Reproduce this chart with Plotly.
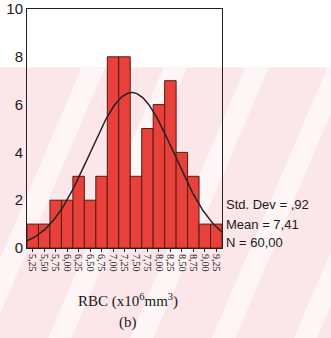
import numpy as np
import plotly.graph_objects as go

bin_centers = [5.25, 5.50, 5.75, 6.00, 6.25, 6.50, 6.75, 7.00, 7.25, 7.50,
               7.75, 8.00, 8.25, 8.50, 8.75, 9.00, 9.25]
counts = [1, 1, 2, 2, 3, 2, 3, 8, 8, 3, 5, 6, 7, 4, 3, 1, 1]
tick_labels = ["5,25", "5,50", "5,75", "6,00", "6,25", "6,50", "6,75", "7,00", "7,25",
               "7,50", "7,75", "8,00", "8,25", "8,50", "8,75", "9,00", "9,25"]
y_ticks = [0, 2, 4, 6, 8, 10]
std_dev = 0.92
mean = 7.41
n = 60
bin_width = 0.25

xs = np.linspace(5.125, 9.375, 200)
curve = n * bin_width / (std_dev * np.sqrt(2 * np.pi)) * np.exp(-0.5 * ((xs - mean) / std_dev) ** 2)

fig = go.Figure()
fig.add_trace(go.Bar(x=bin_centers, y=counts, width=bin_width,
                     marker=dict(color="#e8403a", line=dict(color="#5a1a14", width=1)),
                     showlegend=False, hoverinfo="skip"))
fig.add_trace(go.Scatter(x=xs, y=curve, mode="lines",
                         line=dict(color="#2a2020", width=1.5),
                         showlegend=False, hoverinfo="skip"))

shapes = [
    dict(type="rect", xref="paper", yref="paper", x0=-0.2, x1=1.7, y0=-0.45, y1=0.755,
         fillcolor="#fbe6ea", line=dict(width=0), layer="below"),
]
for k in range(5):
    x0 = -0.35 + k * 0.42
    shapes.append(dict(type="path", xref="paper", yref="paper",
                       path=f"M {x0} -0.45 L {x0+0.12} -0.45 L {x0+0.75} 0.755 L {x0+0.63} 0.755 Z",
                       fillcolor="#fdf5f6", line=dict(width=0), layer="below"))

fig.update_layout(
    width=331, height=338,
    margin=dict(l=27, r=109, t=9, b=90),
    paper_bgcolor="white",
    plot_bgcolor="rgba(0,0,0,0)",
    bargap=0,
    font=dict(family="Liberation Sans, Arial", size=13, color="#1a1a1a"),
    shapes=shapes,
    xaxis=dict(range=[5.125, 9.375], tickvals=bin_centers, ticktext=tick_labels,
               tickangle=90, tickfont=dict(size=10, family="Liberation Serif"),
               showline=True, linecolor="#222", mirror=True, linewidth=1,
               ticks="outside", ticklen=3, tickcolor="#222", automargin=False,
               showgrid=False, zeroline=False, fixedrange=True),
    yaxis=dict(range=[0, 10], tickvals=y_ticks, showline=True, linecolor="#222",
               mirror=True, linewidth=1, ticks="", ticklen=0, automargin=False,
               showgrid=False, zeroline=False, tickfont=dict(size=15), fixedrange=True),
    annotations=[
        dict(text="Std. Dev = ,92", xref="paper", yref="paper", x=1.01, y=0.18,
             xanchor="left", yanchor="middle", showarrow=False, font=dict(size=13)),
        dict(text="Mean = 7,41", xref="paper", yref="paper", x=1.01, y=0.10,
             xanchor="left", yanchor="middle", showarrow=False, font=dict(size=13)),
        dict(text="N = 60,00", xref="paper", yref="paper", x=1.01, y=0.025,
             xanchor="left", yanchor="middle", showarrow=False, font=dict(size=13)),
        dict(text="RBC (x10<sup>6</sup>mm<sup>3</sup>)", xref="paper", yref="paper",
             x=0.52, y=-0.218, xanchor="center", yanchor="middle", showarrow=False,
             font=dict(size=15, family="Liberation Serif")),
        dict(text="(b)", xref="paper", yref="paper", x=0.52, y=-0.31,
             xanchor="center", yanchor="middle", showarrow=False,
             font=dict(size=15, family="Liberation Serif")),
    ],
)

fig.write_html("out.html", config={"displayModeBar": False, "staticPlot": True},
               post_script="document.body.style.margin='0px';document.body.style.padding='0px';")
